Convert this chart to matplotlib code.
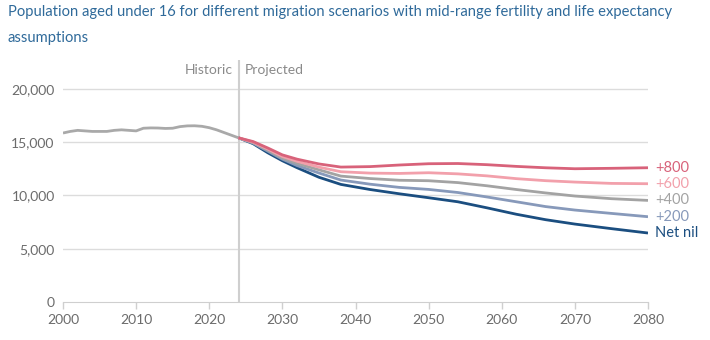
import matplotlib
matplotlib.use("Agg")
from matplotlib import pyplot as plt

plt.rcParams["font.family"] = ["Lato", "DejaVu Sans"]

# Historic estimates, 2000-2024 (thousands)
hist_years = list(range(2000, 2025))
hist_values = [15850, 16000, 16100, 16050, 16000, 16000, 16000, 16100, 16150,
               16100, 16050, 16300, 16330, 16320, 16280, 16300, 16450, 16520,
               16530, 16480, 16350, 16150, 15900, 15650, 15400]

# Projections by migration scenario
proj_years = [2024, 2026, 2028, 2030, 2032, 2035, 2038, 2042, 2046, 2050,
              2054, 2058, 2062, 2066, 2070, 2075, 2080]
net_nil = [15400, 14850, 14000, 13250, 12600, 11700, 11030, 10550, 10150,
           9780, 9400, 8830, 8230, 7720, 7310, 6880, 6470]
plus_200 = [15400, 14900, 14150, 13400, 12800, 12100, 11440, 11050, 10750,
            10560, 10270, 9850, 9400, 8950, 8625, 8310, 8000]
plus_400 = [15400, 14950, 14250, 13500, 13000, 12400, 11810, 11580, 11420,
            11375, 11200, 10900, 10550, 10230, 9940, 9690, 9530]
plus_600 = [15400, 15000, 14350, 13650, 13200, 12650, 12220, 12090, 12060,
            12125, 12020, 11830, 11570, 11380, 11250, 11125, 11094]
plus_800 = [15400, 15050, 14450, 13800, 13400, 12950, 12656, 12700, 12850,
            12970, 12990, 12880, 12720, 12590, 12500, 12540, 12594]

scenarios = [
    ("+800", plus_800, "#d8627a"),
    ("+600", plus_600, "#f2a0ab"),
    ("+400", plus_400, "#a3a3a3"),
    ("+200", plus_200, "#8799ba"),
    ("Net nil", net_nil, "#1b4e80"),
]

fig = plt.figure(figsize=(7.1, 3.4), dpi=100)
ax = fig.add_axes([63 / 710, 38 / 340, 585 / 710, 242 / 340])

for y in [5000, 10000, 15000, 20000]:
    ax.axhline(y, color="#dcdcdc", lw=1, zorder=0)

ax.axvline(2024, color="#cfcfcf", lw=1.5, zorder=0)

ax.plot(hist_years, hist_values, color="#a9a9a9", lw=2, solid_capstyle="butt")
for name, values, color in reversed(scenarios):
    ax.plot(proj_years, values, color=color, lw=2, solid_capstyle="butt")
    ax.text(2081, values[-1], name, color=color, fontsize=10.5,
            va="center", ha="left")

ax.text(2023.2, 21800, "Historic", color="#8a8a8a", fontsize=10,
        ha="right", va="center")
ax.text(2024.9, 21800, "Projected", color="#8a8a8a", fontsize=10,
        ha="left", va="center")

ax.set_xlim(2000, 2080)
ax.set_ylim(0, 22700)
ax.set_xticks(range(2000, 2081, 10))
ax.set_yticks(range(0, 20001, 5000))
ax.set_yticklabels([f"{v:,}" for v in range(0, 20001, 5000)])
ax.tick_params(axis="x", colors="#cfcfcf", labelcolor="#6b6b6b",
               length=5, width=1, labelsize=10, pad=4)
ax.tick_params(axis="y", length=0, labelcolor="#6b6b6b", labelsize=10, pad=6)

for side in ["left", "right", "top"]:
    ax.spines[side].set_visible(False)
ax.spines["bottom"].set_color("#cfcfcf")

fig.text(8 / 710, 1 - 5 / 340,
         "Population aged under 16 for different migration scenarios with "
         "mid-range fertility and life expectancy\nassumptions",
         color="#2f6a9a", fontsize=10.6, ha="left", va="top",
         linespacing=2.05)

fig.savefig("out.png", dpi=100)
